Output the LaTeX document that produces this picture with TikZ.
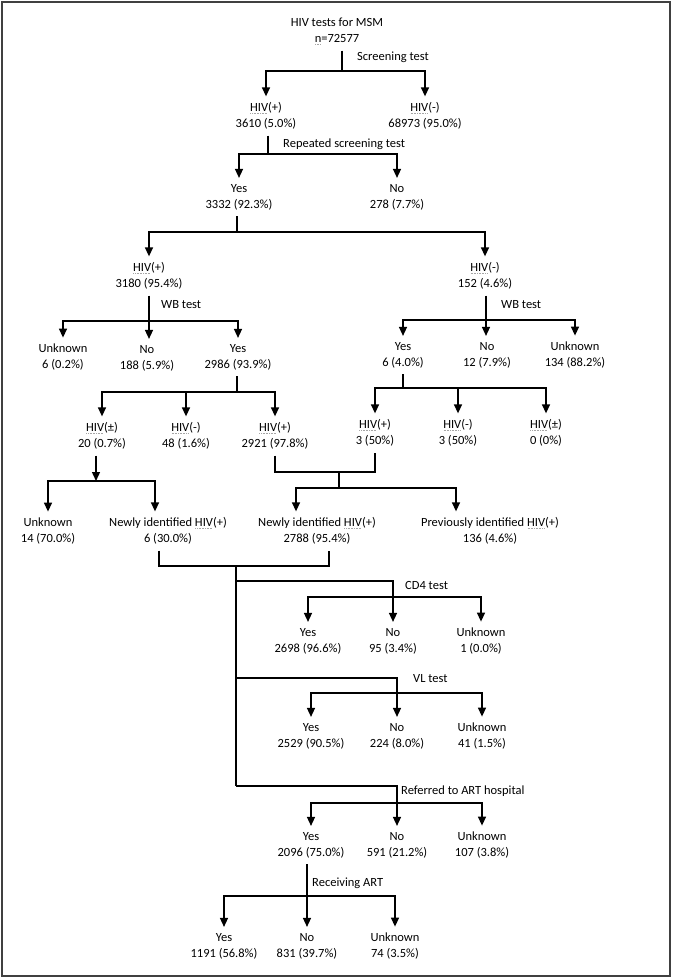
\documentclass[tikz,border=0pt]{standalone}
\usepackage{fontspec}
\setmainfont{Carlito}
\usepackage{tikz}
\usetikzlibrary{arrows.meta}
\newsavebox{\sqbox}
% faint dotted underline as in the original figure
\newcommand{\sq}[1]{\leavevmode\sbox{\sqbox}{#1}\rlap{\color{black!35}\raisebox{-2.2pt}{\hbox to \wd\sqbox{\leaders\hbox to 1.6pt{\hss\rule{0.8pt}{0.7pt}\hss}\hfill}}}\usebox{\sqbox}}

\begin{document}
\begin{tikzpicture}[x=1pt, y=-1pt,
      txt/.style={align=center, font=\fontsize{12.5}{16}\selectfont, inner xsep=1pt, inner ysep=6pt, execute at begin node={\vphantom{(}}},
      lbl/.style={anchor=west, font=\fontsize{12.5}{16}\selectfont, inner sep=0pt},
      ln/.style={line width=1.4pt},
      arr/.style={-{Triangle[length=9pt,width=8pt]}, line width=1.4pt}]
    \useasboundingbox (0,0) rectangle (672,979);
    \draw[line width=1.6pt, black!75] (2,2) rectangle (670,976);

    % nodes
    \node[txt] (root) at (337,31) {HIV tests for MSM\\\sq{n}=72577};
    \node[txt] (sPos) at (266,116) {\sq{HIV}(+)\\3610 (5.0\%)};
    \node[txt] (sNeg) at (425,116) {\sq{HIV}(-)\\68973 (95.0\%)};
    \node[txt] (rYes) at (239,197) {Yes\\3332 (92.3\%)};
    \node[txt] (rNo) at (397,197) {No\\278 (7.7\%)};
    \node[txt] (wPos) at (149,276) {\sq{HIV}(+)\\3180 (95.4\%)};
    \node[txt] (wNeg) at (485,276) {\sq{HIV}(-)\\152 (4.6\%)};
    \node[txt] (aUnk) at (63,357) {Unknown\\6 (0.2\%)};
    \node[txt] (aNo) at (147,358) {No\\188 (5.9\%)};
    \node[txt] (aYes) at (238,357) {Yes\\2986 (93.9\%)};
    \node[txt] (bYes) at (403,355) {Yes\\6 (4.0\%)};
    \node[txt] (bNo) at (487,355) {No\\12 (7.9\%)};
    \node[txt] (bUnk) at (575,355) {Unknown\\134 (88.2\%)};
    \node[txt] (cInd) at (102,436) {\sq{HIV}(±)\\20 (0.7\%)};
    \node[txt] (cNeg) at (186,436) {\sq{HIV}(-)\\48 (1.6\%)};
    \node[txt] (cPos) at (275,436) {\sq{HIV}(+)\\2921 (97.8\%)};
    \node[txt] (dPos) at (375,433) {\sq{HIV}(+)\\3 (50\%)};
    \node[txt] (dNeg) at (458,433) {\sq{HIV}(-)\\3 (50\%)};
    \node[txt] (dInd) at (546,433) {\sq{HIV}(±)\\0 (0\%)};
    \node[txt] (eUnk) at (48,531) {Unknown\\14 (70.0\%)};
    \node[txt] (eNew) at (168,531) {Newly identified \sq{HIV}(+)\\6 (30.0\%)};
    \node[txt] (fNew) at (317,531) {Newly identified \sq{HIV}(+)\\2788 (95.4\%)};
    \node[txt] (fPrev) at (490,531) {Previously identified \sq{HIV}(+)\\136 (4.6\%)};
    \node[txt] (cdYes) at (308,641) {Yes\\2698 (96.6\%)};
    \node[txt] (cdNo) at (393,641) {No\\95 (3.4\%)};
    \node[txt] (cdUnk) at (481,641) {Unknown\\1 (0.0\%)};
    \node[txt] (vlYes) at (311,736) {Yes\\2529 (90.5\%)};
    \node[txt] (vlNo) at (397,736) {No\\224 (8.0\%)};
    \node[txt] (vlUnk) at (482,736) {Unknown\\41 (1.5\%)};
    \node[txt] (refYes) at (311,845) {Yes\\2096 (75.0\%)};
    \node[txt] (refNo) at (397,845) {No\\591 (21.2\%)};
    \node[txt] (refUnk) at (482,845) {Unknown\\107 (3.8\%)};
    \node[txt] (artYes) at (224,946) {Yes\\1191 (56.8\%)};
    \node[txt] (artNo) at (307,946) {No\\831 (39.7\%)};
    \node[txt] (artUnk) at (395,946) {Unknown\\74 (3.5\%)};

    % branch labels
    \node[lbl] (lScr) at (357,57) {Screening test};
    \node[lbl] (lRep) at (283,144) {Repeated screening test};
    \node[lbl] (lWbL) at (161,305) {WB test};
    \node[lbl] (lWbR) at (501,305) {WB test};
    \node[lbl] (lCd) at (405,585) {CD4 test};
    \node[lbl] (lVl) at (413,679) {VL test};
    \node[lbl] (lRef) at (401,791) {Referred to ART hospital};
    \node[lbl] (lArt) at (312,883) {Receiving ART};

    % junctions
    \coordinate (h0) at (342,71);   \coordinate (h1) at (268,154);
    \coordinate (h2) at (237,232);  \coordinate (h3) at (149,321);
    \coordinate (h4) at (486,320);  \coordinate (h5) at (237,392);
    \coordinate (h6) at (403,388);  \coordinate (h7) at (339,472);
    \coordinate (h8) at (339,488);  \coordinate (h9) at (96,481);
    \coordinate (h10) at (236,566); \coordinate (h11) at (236,581);
    \coordinate (h12) at (236,678); \coordinate (h13) at (236,786);
    \coordinate (h14) at (307,896);
    \coordinate (k1) at (393,597);  \coordinate (k2) at (397,693);
    \coordinate (k3) at (397,803);

    % connectors
    \draw[ln] (root.south -| h0) -- (h0);
    \draw[arr] (h0) -| (sPos.north); \draw[arr] (h0) -| (sNeg.north);
    \draw[ln] (sPos.south -| h1) -- (h1);
    \draw[arr] (h1) -| (rYes.north); \draw[arr] (h1) -| (rNo.north);
    \draw[ln] (rYes.south -| h2) -- (h2);
    \draw[arr] (h2) -| (wPos.north); \draw[arr] (h2) -| (wNeg.north);
    \draw[ln] (wPos.south) -- (h3);
    \draw[arr] (h3) -| (aUnk.north); \draw[arr] (h3) -| (aYes.north);
    \draw[arr] (h3) -- (h3 |- aNo.north);
    \draw[ln] (wNeg.south -| h4) -- (h4);
    \draw[arr] (h4) -| (bYes.north); \draw[arr] (h4) -| (bUnk.north);
    \draw[arr] (h4) -- (h4 |- bNo.north);
    \draw[ln] (aYes.south -| h5) -- (h5);
    \draw[arr] (h5) -| (cInd.north); \draw[arr] (h5) -| (cPos.north);
    \draw[arr] (cNeg |- h5) -- (cNeg.north);
    \draw[ln] (bYes.south) -- (h6);
    \draw[arr] (h6) -| (dPos.north); \draw[arr] (h6) -| (dInd.north);
    \draw[arr] (dNeg |- h6) -- (dNeg.north);
    \draw[ln] (cPos.south) |- (h7) -| (dPos.south);
    \draw[ln] (h7) -- (h8);
    \draw[arr] (h8) -| ([xshift=-21pt]fNew.north);
    \draw[arr] (h8) -| ([xshift=-34pt]fPrev.north);
    \draw[arr] ([xshift=-6pt]cInd.south) -- (h9);
    \draw[arr] (h9) -| (eUnk.north);
    \draw[arr] (h9) -| ([xshift=-13pt]eNew.north);
    \draw[ln] ([xshift=-9pt]eNew.south) |- (h10) -| ([xshift=12pt]fNew.south);
    \draw[ln] (h10) -- (h13);
    \draw[arr] (h11) -| (cdNo.north);
    \draw[arr] (k1) -| (cdYes.north); \draw[arr] (k1) -| (cdUnk.north);
    \draw[arr] (h12) -| (vlNo.north);
    \draw[arr] (k2) -| (vlYes.north); \draw[arr] (k2) -| (vlUnk.north);
    \draw[arr] (h13) -| (refNo.north);
    \draw[arr] (k3) -| (refYes.north); \draw[arr] (k3) -| (refUnk.north);
    \draw[ln] (refYes.south -| h14) -- (h14);
    \draw[arr] (h14) -| (artYes.north); \draw[arr] (h14) -| (artUnk.north);
    \draw[arr] (h14) -- (artNo.north);
  \end{tikzpicture}
\end{document}
